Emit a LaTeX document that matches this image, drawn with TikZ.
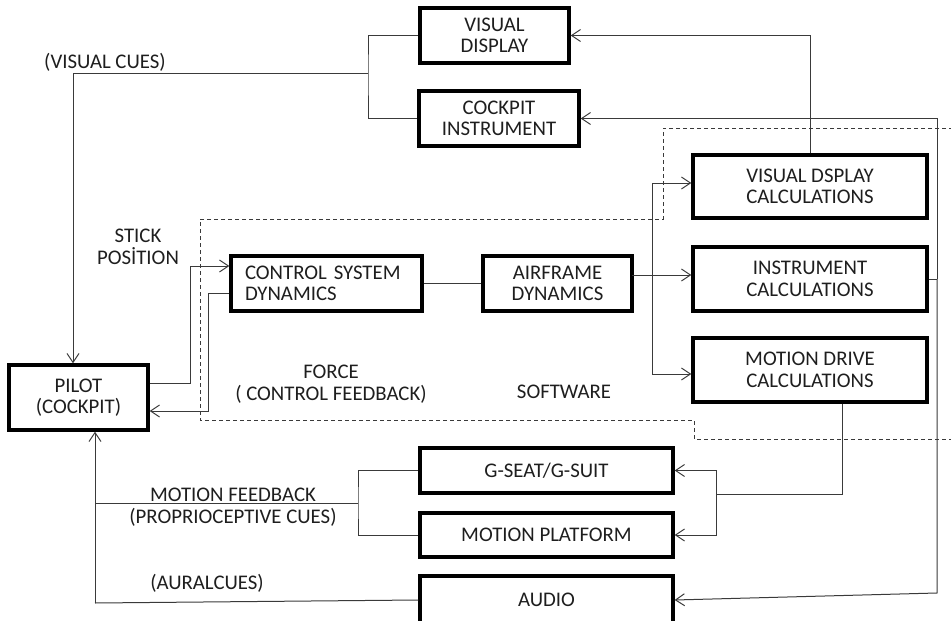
\documentclass[tikz,border=0pt]{standalone}
\usepackage{fontspec}
\setmainfont{Carlito}
\usetikzlibrary{arrows.meta}
\definecolor{txt}{HTML}{1E1E1E}
\definecolor{ln}{HTML}{3A3A3A}
\begin{document}
\begin{tikzpicture}[x=1pt,y=-1pt,
  every node/.style={font=\fontsize{20.8}{21.5}\selectfont, text=txt},
  blk/.style={draw=black, line width=3.3pt, rectangle, align=center, inner sep=0pt},
  lbl/.style={align=center, inner sep=0pt},
  con/.style={draw=ln, line width=1pt},
  arr/.style={con, -{Straight Barb[length=9pt,width=12pt,line width=1pt]}},
  sw/.style={draw=ln, line width=1pt, dash pattern=on 4pt off 3pt}]
\useasboundingbox (0,0) rectangle (951,621);
\clip (0,0) rectangle (951,621);
% boxes
\node[blk, minimum width=149pt, minimum height=55pt] (vd) at (494.5,35.5) {VISUAL\\DISPLAY};
\node[blk, minimum width=160pt, minimum height=55pt] (ci) at (499,118.5) {COCKPIT\\INSTRUMENT};
\node[blk, minimum width=234pt, minimum height=63pt] (vdc) at (810,186.5) {VISUAL DSPLAY\\CALCULATIONS};
\node[blk, minimum width=234pt, minimum height=64pt] (ic) at (810,279) {INSTRUMENT\\CALCULATIONS};
\node[blk, minimum width=234pt, minimum height=64pt] (mdc) at (810,370) {MOTION DRIVE\\CALCULATIONS};
\node[blk, minimum width=149pt, minimum height=55pt] (ad) at (557.5,283.5) {AIRFRAME\\DYNAMICS};
\node[blk, minimum width=191pt, minimum height=55pt, align=left, text width=163pt] (csd) at (326.5,283.5) {CONTROL SYSTEM\\DYNAMICS};
\node[blk, minimum width=139pt, minimum height=65pt] (pilot) at (78.5,397.5) {PILOT\\(COCKPIT)};
\node[blk, minimum width=253pt, minimum height=45pt] (gs) at (546.5,470.5) {G-SEAT/G-SUIT};
\node[blk, minimum width=253pt, minimum height=44pt] (mp) at (546.5,535) {MOTION PLATFORM};
\node[blk, minimum width=253pt, minimum height=48pt] (au) at (546.5,600) {AUDIO};
% software boundary
\draw[sw] (960,128) -- (663,128) -- (663,219) -- (200,219) -- (200,420) -- (694,420) -- (694,439) -- (960,439);
% labels
\node[lbl] (lvc) at (105,62) {(VISUAL CUES)};
\node[lbl] (lsp) at (138,247) {STICK\\POSİTION};
\node[lbl] (lfc) at (331,384) {FORCE\\( CONTROL FEEDBACK)};
\node[lbl] (lsw) at (564,392) {SOFTWARE};
\node[lbl] (lmf) at (233,507) {MOTION FEEDBACK\\(PROPRIOCEPTIVE CUES)};
\node[lbl] (lac) at (207,583) {(AURALCUES)};
% coordinates
\coordinate (vcj) at (368,73);
\coordinate (vcc) at (73,73);
\coordinate (ibus) at (937,279);
\coordinate (ibot) at (937,593);
\coordinate (afo) at (632,275);
\coordinate (afb) at (652,275);
\coordinate (mdj) at (716,494);
\coordinate (mfj) at (358,503);
\coordinate (mfl) at (95,503);
\coordinate (mfb) at (95,603);
% visual cues
\draw[con] (vd.west) -| (vcj) |- (ci.west);
\draw[arr] (vcj) -- (vcc) -- (vcc |- pilot.north);
% visual display calcs -> visual display
\draw[arr] (vdc.north) |- (vd.east);
% instrument calcs -> cockpit instrument, audio
\draw[con] (ic.east) -- (ibus);
\draw[arr] (ibus) |- (ci.east);
\draw[arr] (ibus) -- (ibot) -- (au.east);
% airframe -> calcs
\draw[arr] (afo) -- (afo -| ic.west);
\draw[arr] (afb) |- ([yshift=3.5pt]vdc.west);
\draw[arr] (afb) |- ([yshift=-4pt]mdc.west);
% control system -> airframe
\draw[con] (csd.east) -- (ad.west);
% pilot <-> control system
\draw[arr] ([yshift=14.5pt]pilot.east) -- ++(41,0) |- ([yshift=17.5pt]csd.west);
\draw[arr] ([yshift=-9.5pt]csd.west) -- ++(-21,0) |- ([yshift=-13.5pt]pilot.east);
% motion drive -> g-seat, platform
\draw[con] ([xshift=32pt]mdc.south) |- (mdj);
\draw[arr] (mdj -| 716,0) |- (gs.east);
\draw[arr] (mdj -| 716,0) |- (mp.east);
% motion feedback
\draw[con] (gs.west) -| (mfj) |- (mp.west);
\draw[con] (mfj) -- (mfl);
\draw[con] (au.west) -- (mfb);
\draw[arr] (mfb) -- (mfb |- pilot.south);
\end{tikzpicture}
\end{document}
